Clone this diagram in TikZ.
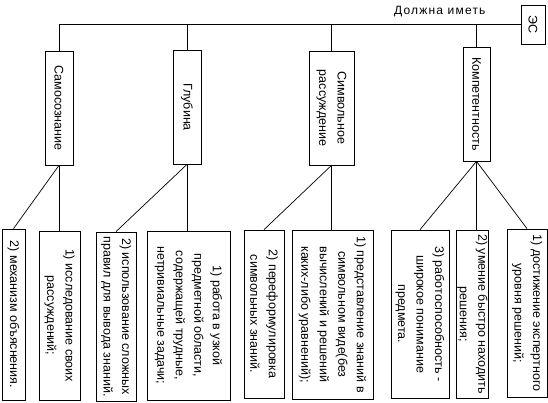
\documentclass[tikz,border=0pt]{standalone}
\usepackage{fontspec}
\setmainfont{Liberation Sans}
\newfontfamily\spacedfont[LetterSpace=10]{Liberation Sans}
\usetikzlibrary{positioning}

\begin{document}
\begin{tikzpicture}[x=1pt, y=-1pt,
    box/.style={draw, line width=0.7pt, rotate=-90, align=center, inner sep=1pt, font=\fontsize{12.5}{18.5}\selectfont},
    link/.style={line width=0.7pt}
  ]
    \useasboundingbox (0,0) rectangle (548,403);

    \node[box, minimum width=39pt, minimum height=24pt] (es) at (533,24.5) {ЭС};
    \node[anchor=east, font=\spacedfont\fontsize{12}{14}\selectfont] (lbl) at (489,12) {Должна иметь};

    \node[box, minimum width=114pt, minimum height=28pt] (samo) at (59,108) {Самосознание};
    \node[box, minimum width=114pt, minimum height=28pt] (glub) at (187,107) {Глубина};
    \node[box, minimum width=114pt, minimum height=45pt] (simv) at (331.5,108) {Символьное\\рассуждение};
    \node[box, minimum width=114pt, minimum height=27pt] (komp) at (476.5,104) {Компетентность};

    \node[box, minimum width=171pt, minimum height=23pt] (b1) at (13.5,314.5) {2) механизм объяснения.};
    \node[box, minimum width=169pt, minimum height=41pt] (b2) at (59.5,315.5) {1) исследование своих\\рассуждений;};
    \node[box, minimum width=169pt, minimum height=40pt] (b3) at (116,316.5) {2) использование сложных\\правил для вывода знаний.};
    \node[box, minimum width=169pt, minimum height=83pt] (b4) at (188.5,315.5) {1) работа в узкой\\предметной области,\\содержащей трудные,\\нетривиальные задачи;};
    \node[box, minimum width=168pt, minimum height=40pt] (b5) at (264,314) {2) переформулировка\\символьных знаний.};
    \node[box, minimum width=169pt, minimum height=81pt] (b6) at (332.5,314.5) {1) представление знаний в\\символьном виде(без\\вычислений и решений\\каких-либо уравнений);};
    \node[box, minimum width=168pt, minimum height=58pt] (b7) at (420,314) {3) работоспособность -\\широкое понимание\\предмета.};
    \node[box, minimum width=168pt, minimum height=31pt] (b8) at (472.5,314) {2) умение быстро находить\\решения;};
    \node[box, minimum width=168pt, minimum height=40pt] (b9) at (527,313) {1) достижение экспертного\\уровня решений;};

    \draw[link] (es.south) -- (es.south -| samo.west) -- (samo.west);
    \foreach \n in {glub,simv,komp}
      \draw[link] (\n.west) -- (\n.west |- es.south);

    \draw[link] (samo.east) -- (b1.west);
    \draw[link] (samo.east) -- (samo.east |- b2.west);
    \draw[link] (glub.east) -- (b3.west);
    \draw[link] (glub.east) -- (glub.east |- b4.west);
    \draw[link] (simv.east) -- (b5.west);
    \draw[link] (simv.east) -- (simv.east |- b6.west);
    \draw[link] (komp.east) -- (b7.west);
    \draw[link] (komp.east) -- (komp.east |- b8.west);
    \draw[link] (komp.east) -- (b9.west);

  \end{tikzpicture}
\end{document}
